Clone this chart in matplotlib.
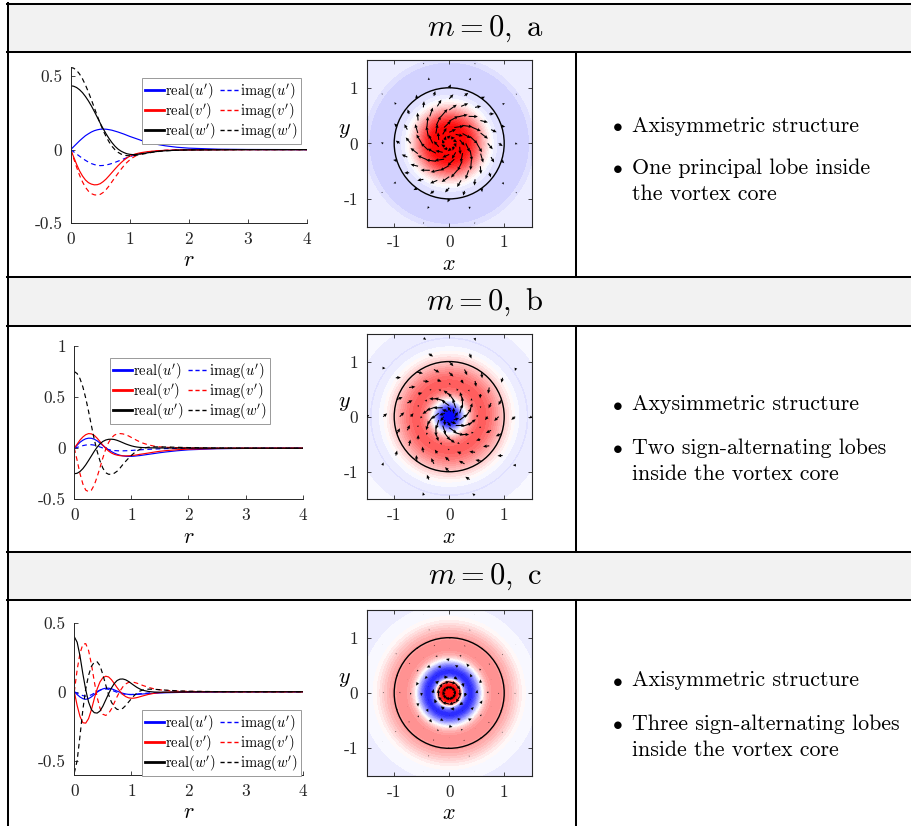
import numpy as np
import matplotlib
matplotlib.use('Agg')
import matplotlib.pyplot as plt
from matplotlib.colors import LinearSegmentedColormap
from matplotlib.lines import Line2D
from matplotlib.patches import Rectangle, Circle

plt.rcParams['mathtext.fontset'] = 'cm'
plt.rcParams['font.family'] = 'serif'
plt.rcParams['font.serif'] = ['cmr10']
plt.rcParams['axes.unicode_minus'] = False
plt.rcParams['axes.formatter.use_mathtext'] = True

# ---------------- data ----------------
r = [0.0, 0.05, 0.1, 0.15, 0.2, 0.25, 0.3, 0.35, 0.4, 0.45, 0.5, 0.55, 0.6, 0.65, 0.7,
     0.75, 0.8, 0.85, 0.9, 0.95, 1.0, 1.05, 1.1, 1.15, 1.2, 1.3, 1.4, 1.5, 1.6, 1.8,
     2.0, 2.5, 3.0, 4.0]

# case a
a_ur = [0, 0.02, 0.04, 0.06, 0.078, 0.095, 0.108, 0.12, 0.129, 0.135, 0.139, 0.14, 0.139, 0.136, 0.132,
        0.126, 0.12, 0.113, 0.106, 0.098, 0.09, 0.083, 0.076, 0.069, 0.062, 0.05, 0.041, 0.033, 0.026, 0.016,
        0.01, 0.003, 0.001, 0]
a_ui = [0, -0.015, -0.03, -0.045, -0.06, -0.073, -0.085, -0.095, -0.102, -0.107, -0.109, -0.108, -0.105, -0.1, -0.094,
        -0.087, -0.079, -0.071, -0.063, -0.055, -0.048, -0.041, -0.035, -0.03, -0.025, -0.018, -0.012, -0.008, -0.005, -0.002,
        -0.001, 0, 0, 0]
a_vr = [0, -0.05, -0.1, -0.145, -0.18, -0.207, -0.225, -0.235, -0.24, -0.239, -0.232, -0.218, -0.2, -0.178, -0.155,
        -0.132, -0.11, -0.09, -0.072, -0.057, -0.045, -0.036, -0.029, -0.024, -0.02, -0.014, -0.01, -0.007, -0.005, -0.003,
        -0.002, -0.001, 0, 0]
a_vi = [0, -0.06, -0.12, -0.175, -0.22, -0.257, -0.283, -0.3, -0.308, -0.31, -0.305, -0.292, -0.272, -0.247, -0.218,
        -0.19, -0.162, -0.135, -0.11, -0.088, -0.07, -0.055, -0.043, -0.034, -0.027, -0.017, -0.011, -0.007, -0.005, -0.002,
        -0.001, 0, 0, 0]
a_wr = [0.435, 0.432, 0.423, 0.408, 0.388, 0.362, 0.332, 0.298, 0.26, 0.22, 0.18, 0.142, 0.107, 0.075, 0.047,
        0.023, 0.004, -0.01, -0.02, -0.028, -0.032, -0.034, -0.033, -0.031, -0.028, -0.022, -0.016, -0.011, -0.008, -0.004,
        -0.002, -0.001, 0, 0]
a_wi = [0.56, 0.555, 0.54, 0.515, 0.482, 0.44, 0.392, 0.34, 0.285, 0.23, 0.178, 0.13, 0.088, 0.052, 0.022,
        -0.001, -0.018, -0.03, -0.037, -0.041, -0.042, -0.041, -0.039, -0.036, -0.032, -0.024, -0.017, -0.012, -0.008, -0.004,
        -0.002, -0.001, 0, 0]

# case b
b_ur = [0, 0.03, 0.058, 0.078, 0.092, 0.098, 0.097, 0.088, 0.072, 0.05, 0.027, 0.005, -0.015, -0.033, -0.048,
        -0.06, -0.069, -0.075, -0.079, -0.08, -0.08, -0.078, -0.075, -0.072, -0.068, -0.06, -0.052, -0.044, -0.037, -0.025,
        -0.016, -0.005, -0.002, 0]
b_ui = [0, 0.008, 0.017, 0.025, 0.031, 0.034, 0.034, 0.03, 0.022, 0.012, 0.002, -0.007, -0.014, -0.019, -0.023,
        -0.025, -0.026, -0.026, -0.025, -0.024, -0.022, -0.02, -0.018, -0.016, -0.014, -0.011, -0.008, -0.006, -0.004, -0.002,
        -0.001, 0, 0, 0]
b_vr = [0, 0.04, 0.08, 0.11, 0.132, 0.143, 0.14, 0.125, 0.098, 0.065, 0.03, -0.002, -0.028, -0.047, -0.06,
        -0.068, -0.073, -0.075, -0.075, -0.074, -0.072, -0.069, -0.065, -0.06, -0.056, -0.047, -0.038, -0.03, -0.024, -0.015,
        -0.009, -0.003, -0.001, 0]
b_vi = [0, -0.12, -0.25, -0.35, -0.41, -0.425, -0.41, -0.36, -0.28, -0.19, -0.095, -0.01, 0.055, 0.1, 0.127,
        0.14, 0.143, 0.14, 0.132, 0.12, 0.105, 0.09, 0.075, 0.062, 0.05, 0.032, 0.02, 0.013, 0.009, 0.005,
        0.003, 0.001, 0, 0]
b_wr = [-0.25, -0.245, -0.228, -0.2, -0.163, -0.12, -0.075, -0.03, 0.01, 0.043, 0.066, 0.08, 0.087, 0.088, 0.085,
        0.077, 0.066, 0.054, 0.042, 0.032, 0.023, 0.016, 0.011, 0.008, 0.006, 0.004, 0.003, 0.002, 0.002, 0.001,
        0.001, 0, 0, 0]
b_wi = [0.75, 0.73, 0.68, 0.6, 0.49, 0.36, 0.22, 0.085, -0.03, -0.125, -0.195, -0.24, -0.255, -0.255, -0.245,
        -0.225, -0.195, -0.16, -0.128, -0.098, -0.07, -0.046, -0.026, -0.011, 0.0, 0.01, 0.013, 0.013, 0.012, 0.009,
        0.006, 0.002, 0.001, 0]

# case c
c_ur = [0, -0.02, -0.038, -0.05, -0.055, -0.05, -0.037, -0.02, -0.003, 0.011, 0.021, 0.026, 0.026, 0.022, 0.014,
        0.005, -0.004, -0.011, -0.016, -0.019, -0.02, -0.02, -0.019, -0.018, -0.016, -0.013, -0.011, -0.009, -0.007, -0.005,
        -0.003, -0.001, 0, 0]
c_ui = [0, -0.01, -0.02, -0.028, -0.032, -0.03, -0.022, -0.01, 0.002, 0.012, 0.018, 0.02, 0.018, 0.012, 0.004,
        -0.004, -0.011, -0.016, -0.019, -0.02, -0.02, -0.018, -0.016, -0.014, -0.012, -0.009, -0.007, -0.005, -0.004, -0.002,
        -0.001, 0, 0, 0]
c_vr = [0, -0.1, -0.18, -0.225, -0.228, -0.195, -0.13, -0.05, 0.02, 0.072, 0.102, 0.113, 0.108, 0.088, 0.06,
        0.03, 0.003, -0.02, -0.035, -0.044, -0.047, -0.046, -0.042, -0.036, -0.03, -0.019, -0.011, -0.006, -0.004, -0.002,
        -0.001, 0, 0, 0]
c_vi = [0, 0.16, 0.28, 0.345, 0.35, 0.3, 0.2, 0.075, -0.04, -0.12, -0.163, -0.172, -0.158, -0.125, -0.08,
        -0.035, 0.005, 0.036, 0.057, 0.068, 0.071, 0.068, 0.062, 0.054, 0.046, 0.032, 0.021, 0.014, 0.01, 0.005,
        0.003, 0.001, 0, 0]
c_wr = [0.4, 0.36, 0.26, 0.13, 0.015, -0.075, -0.13, -0.152, -0.155, -0.14, -0.105, -0.06, -0.015, 0.027, 0.06,
        0.082, 0.092, 0.093, 0.087, 0.075, 0.06, 0.045, 0.031, 0.02, 0.011, 0.002, -0.002, -0.003, -0.003, -0.002,
        -0.001, 0, 0, 0]
c_wi = [-0.59, -0.5, -0.32, -0.13, 0.02, 0.12, 0.185, 0.215, 0.218, 0.19, 0.125, 0.05, -0.02, -0.075, -0.11,
        -0.128, -0.13, -0.12, -0.1, -0.075, -0.05, -0.027, -0.008, 0.005, 0.013, 0.019, 0.018, 0.015, 0.012, 0.007,
        0.004, 0.001, 0, 0]

# radial colour field (normalised, +1 red, -1 blue)
r_field = [0.0, 0.05, 0.1, 0.15, 0.2, 0.25, 0.3, 0.35, 0.4, 0.45, 0.5, 0.55, 0.6, 0.65, 0.7, 0.75,
           0.8, 0.85, 0.9, 0.95, 1.0, 1.05, 1.1, 1.15, 1.2, 1.25, 1.3, 1.35, 1.4, 1.45, 1.5,
           1.6, 1.7, 1.8, 1.9, 2.0, 2.1, 2.2]
field_a = [1, 1, 1, 1, 1, 0.99, 0.96, 0.9, 0.82, 0.72, 0.6, 0.47, 0.34, 0.21, 0.1, 0.02,
           -0.05, -0.09, -0.12, -0.14, -0.15, -0.16, -0.16, -0.16, -0.16, -0.16, -0.16, -0.16, -0.16, -0.155, -0.13,
           -0.08, -0.07, -0.065, -0.06, -0.06, -0.055, -0.055]
field_b = [-1, -1, -0.97, -0.85, -0.6, -0.3, -0.05, 0.15, 0.33, 0.47, 0.56, 0.61, 0.62, 0.61, 0.58, 0.53,
           0.47, 0.4, 0.33, 0.26, 0.2, 0.14, 0.08, 0.03, -0.01, -0.04, -0.07, -0.09, -0.1, -0.1, -0.09,
           -0.06, -0.05, -0.05, -0.045, -0.04, -0.04, -0.04]
field_c = [1, 1, 1, 0.92, 0.45, -0.25, -0.65, -0.82, -0.85, -0.75, -0.55, -0.3, -0.05, 0.15, 0.3, 0.38,
           0.42, 0.43, 0.42, 0.4, 0.37, 0.33, 0.28, 0.23, 0.17, 0.11, 0.06, 0.02, -0.01, -0.03, -0.04,
           -0.05, -0.05, -0.05, -0.05, -0.05, -0.05, -0.05]

quiver_r = [0.1, 0.2, 0.3, 0.4, 0.5, 0.6, 0.7, 0.8, 0.9, 1.0, 1.2, 1.5]
quiver_n = 10

headers = [r'$m=0,\ \mathrm{a}$', r'$m=0,\ \mathrm{b}$', r'$m=0,\ \mathrm{c}$']
bullets = [
    [['Axisymmetric structure'], ['One principal lobe inside', 'the vortex core']],
    [['Axysimmetric structure'], ['Two sign-alternating lobes', 'inside the vortex core']],
    [['Axisymmetric structure'], ['Three sign-alternating lobes', 'inside the vortex core']],
]
legend_labels = [r'$\mathrm{real}(u^\prime)$', r'$\mathrm{real}(v^\prime)$', r'$\mathrm{real}(w^\prime)$',
                 r'$\mathrm{imag}(u^\prime)$', r'$\mathrm{imag}(v^\prime)$', r'$\mathrm{imag}(w^\prime)$']

cases = [
    dict(ur=a_ur, ui=a_ui, vr=a_vr, vi=a_vi, wr=a_wr, wi=a_wi, field=field_a,
         ylim=(-0.5, 0.565), yticks=[-0.5, 0, 0.5], yticklabels=['-0.5', '0', '0.5'], qscale=1.45),
    dict(ur=b_ur, ui=b_ui, vr=b_vr, vi=b_vi, wr=b_wr, wi=b_wi, field=field_b,
         ylim=(-0.5, 1.0), yticks=[-0.5, 0, 0.5, 1], yticklabels=['-0.5', '0', '0.5', '1'], qscale=0.95),
    dict(ur=c_ur, ui=c_ui, vr=c_vr, vi=c_vi, wr=c_wr, wi=c_wi, field=field_c,
         ylim=(-0.605, 0.5), yticks=[-0.5, 0, 0.5], yticklabels=['-0.5', '0', '0.5'], qscale=1.8),
]

# ---------------- layout (pixels) ----------------
W, H = 911, 826
fig = plt.figure(figsize=(W / 100, H / 100), dpi=100)


def frect(x0, y0, x1, y1):
    return [x0 / W, 1 - y1 / H, (x1 - x0) / W, (y1 - y0) / H]


def fx(x):
    return x / W


def fy(y):
    return 1 - y / H


line_boxes = [(70.7, 66.7, 307, 223), (74.3, 346, 302.7, 499.3), (74.3, 623, 302.7, 775)]
cont_boxes = [(366.7, 60, 531.7, 226.7), (366.7, 334, 531.7, 499.3), (366.7, 610, 531.7, 776)]
legend_anchor = [(141.7, 77.7), (110, 358), (141.7, 710)]
header_bands = [(5, 51), (278.3, 325), (553, 599.3)]
text_baselines = [(131.5, 173.5, 200), (410.5, 453.5, 479.5), (686.5, 729.5, 755.5)]

cmap = LinearSegmentedColormap.from_list('bwr_m', [(0, 0, 1), (1, 1, 1), (1, 0, 0)], N=256)
axc = '0.15'

# header backgrounds
for (y0, y1) in header_bands:
    fig.add_artist(Rectangle((fx(8), fy(y1)), fx(911) - fx(8) + 0.01, fy(y0) - fy(y1),
                             transform=fig.transFigure, facecolor='#f2f2f2', edgecolor='none', zorder=0))

theta = np.linspace(0, 2 * np.pi, 241)
R_arr = np.asarray(r_field)
RR, TT = np.meshgrid(R_arr, theta)
XX, YY = RR * np.cos(TT), RR * np.sin(TT)
r_arr = np.asarray(r)

for k, cs in enumerate(cases):
    # ---- line plot ----
    ax = fig.add_axes(frect(*line_boxes[k]))
    lw = 0.85
    dash = (0, (4, 3))
    ax.plot(r, cs['ur'], color='b', lw=lw)
    ax.plot(r, cs['ui'], color='b', lw=lw, ls=dash)
    ax.plot(r, cs['vr'], color='r', lw=lw)
    ax.plot(r, cs['vi'], color='r', lw=lw, ls=dash)
    ax.plot(r, cs['wr'], color='k', lw=lw)
    ax.plot(r, cs['wi'], color='k', lw=lw, ls=dash)
    ax.set_xlim(0, 4)
    ax.set_ylim(*cs['ylim'])
    ax.set_xticks([0, 1, 2, 3, 4])
    ax.set_xticklabels(['0', '1', '2', '3', '4'])
    ax.set_yticks(cs['yticks'])
    ax.set_yticklabels(cs['yticklabels'])
    for s in ['top', 'right']:
        ax.spines[s].set_visible(False)
    for s in ['left', 'bottom']:
        ax.spines[s].set_color(axc)
        ax.spines[s].set_linewidth(0.7)
    ax.tick_params(direction='in', length=3, width=0.6, colors=axc, labelsize=12.5, pad=6)
    ax.set_xlabel(r'$r$', fontsize=16, labelpad=3)
    ax.patch.set_alpha(0)

    handles = [Line2D([], [], color='b', lw=2), Line2D([], [], color='r', lw=2), Line2D([], [], color='k', lw=2),
               Line2D([], [], color='b', lw=1, ls=(0, (3, 2))), Line2D([], [], color='r', lw=1, ls=(0, (3, 2))),
               Line2D([], [], color='k', lw=1, ls=(0, (3, 2)))]
    lx, ly = legend_anchor[k]
    leg = ax.legend(handles, legend_labels, ncol=2, loc='upper left', bbox_to_anchor=(fx(lx), fy(ly)),
                    bbox_transform=fig.transFigure, borderaxespad=0, fontsize=10.5, frameon=True,
                    fancybox=False, edgecolor='0.6', framealpha=1, handlelength=1.3, handletextpad=0.1,
                    columnspacing=0.3, labelspacing=0.0, borderpad=0.2)
    leg.get_frame().set_linewidth(0.7)

    # ---- field plot ----
    axf = fig.add_axes(frect(*cont_boxes[k]))
    Z = np.tile(np.asarray(cs['field']), (len(theta), 1))
    axf.contourf(XX, YY, Z, levels=np.linspace(-1, 1, 41), cmap=cmap, vmin=-1, vmax=1)
    # quiver on polar rings, vectors from real(u'), real(v')
    idx = [int(np.argmin(np.abs(r_arr - rq))) for rq in quiver_r]
    ur_q = np.asarray(cs['ur'])[idx]
    vr_q = np.asarray(cs['vr'])[idx]
    Xq, Yq, Uq, Vq = [], [], [], []
    for i, rq in enumerate(quiver_r):
        off = (np.pi / quiver_n) * (i % 2) if rq < 1.1 else 0.0
        th_q = np.arange(quiver_n) * 2 * np.pi / quiver_n + off
        Xq.append(rq * np.cos(th_q))
        Yq.append(rq * np.sin(th_q))
        Uq.append(ur_q[i] * np.cos(th_q) - vr_q[i] * np.sin(th_q))
        Vq.append(ur_q[i] * np.sin(th_q) + vr_q[i] * np.cos(th_q))
    Xq, Yq, Uq, Vq = [np.concatenate(a) for a in (Xq, Yq, Uq, Vq)]
    axf.quiver(Xq, Yq, Uq, Vq, angles='xy', scale_units='xy', scale=cs['qscale'], color='k',
               width=0.0065, headwidth=3.2, headlength=3.5, headaxislength=3.2, minlength=0.3, zorder=3)
    axf.add_patch(Circle((0, 0), 1.0, fill=False, edgecolor='k', lw=1.0, zorder=4))
    axf.set_xlim(-1.5, 1.5)
    axf.set_ylim(-1.5, 1.5)
    axf.set_xticks([-1, 0, 1])
    axf.set_xticklabels(['-1', '0', '1'])
    axf.set_yticks([-1, 0, 1])
    axf.set_yticklabels(['-1', '0', '1'])
    axf.tick_params(direction='in', length=3, width=0.6, colors=axc, labelsize=12.5, pad=6,
                    top=True, right=True)
    for s in axf.spines.values():
        s.set_color(axc)
        s.set_linewidth(0.8)
    axf.set_xlabel(r'$x$', fontsize=16, labelpad=3)
    axf.set_ylabel(r'$y$', fontsize=16, rotation=0, va='center', ha='center')
    axf.yaxis.set_label_coords(-0.135, 0.58)

    # ---- header & bullets ----
    y0, y1 = header_bands[k]
    fig.text(fx(485), fy((y0 + y1) / 2 + 1), headers[k], ha='center', va='center', fontsize=22)
    bl = text_baselines[k]
    lines_all = bullets[k]
    yy = [[bl[0]], [bl[1], bl[2]]]
    for bi, item in enumerate(lines_all):
        fig.text(fx(617), fy(yy[bi][0] - 5.5), r'$\bullet$', ha='center', va='center', fontsize=14)
        for li, txt in enumerate(item):
            fig.text(fx(632), fy(yy[bi][li]), txt, ha='left', va='baseline', fontsize=15.8)

# ---------------- table lines ----------------
tlw = 1.45
for y in [4, 52, 277.3, 326, 552, 600.3]:
    fig.add_artist(Line2D([fx(7), 1.01], [fy(y), fy(y)], transform=fig.transFigure, color='k', lw=tlw))
fig.add_artist(Line2D([fx(8), fx(8)], [fy(3), -0.01], transform=fig.transFigure, color='k', lw=tlw))
for (ya, yb) in [(52, 277.3), (326, 552), (600.3, 830)]:
    fig.add_artist(Line2D([fx(576), fx(576)], [fy(ya), fy(yb)], transform=fig.transFigure, color='k', lw=tlw))

fig.savefig('out.png', dpi=100)
